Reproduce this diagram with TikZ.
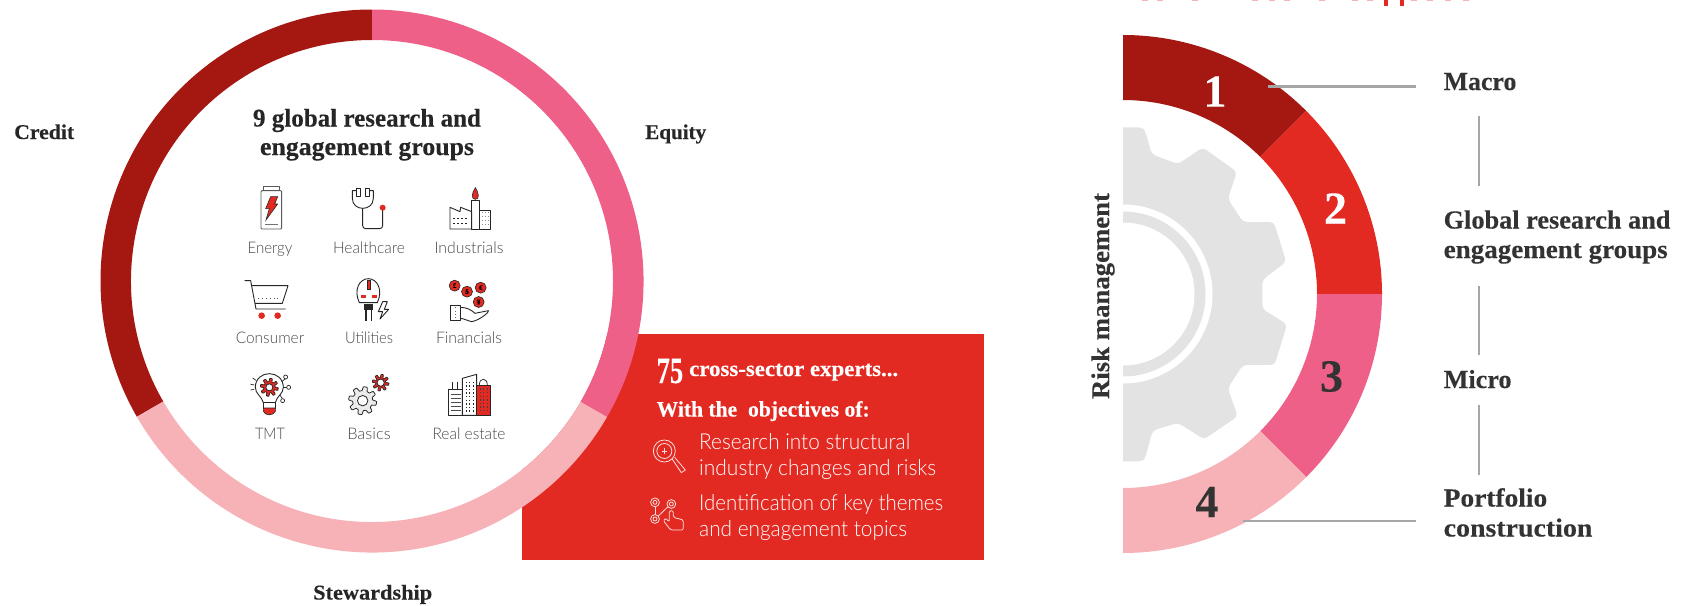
\documentclass[tikz,border=0pt]{standalone}
\usepackage{fontspec}
\usepackage{graphicx}
\setmainfont{Liberation Serif}[BoldFeatures={FakeBold=0.25}]
\newfontfamily\lightf{Lato}[UprightFont=* Light]
\newcommand\fw[2]{\resizebox{#1pt}{\height}{#2}}
\definecolor{cdark}{HTML}{A51812}
\definecolor{cred}{HTML}{E32A22}
\definecolor{cpink}{HTML}{EE6088}
\definecolor{clight}{HTML}{F7B2B8}
\definecolor{cink}{HTML}{333333}
\definecolor{cline}{HTML}{A6A6A6}
\definecolor{cgear}{HTML}{E3E3E3}
\definecolor{clabel}{HTML}{4A4A4C}
\tikzset{
  head/.style={font=\bfseries\fontsize{26}{30}\selectfont,text=cink,anchor=base west,inner sep=0pt},
  headc/.style={font=\bfseries\fontsize{25.5}{30}\selectfont,text=black!85,anchor=base,inner sep=0pt},
  seg/.style={font=\bfseries\fontsize{21}{25}\selectfont,text=black!85,anchor=base west,inner sep=0pt},
  num/.style={font=\bfseries\fontsize{46}{50}\selectfont,inner sep=0pt},
  lab/.style={font=\lightf\fontsize{16}{19}\selectfont,text=clabel,anchor=base,inner sep=0pt},
  boxh/.style={font=\bfseries\fontsize{22}{26}\selectfont,text=white,anchor=base west,inner sep=0pt},
  boxt/.style={font=\lightf\fontsize{22}{26}\selectfont,text=white,anchor=base west,inner sep=0pt},
  lead/.style={draw=cline,line width=2.8pt},
  ic/.style={draw=black!85,line width=.9pt,line join=round},
  icr/.style={fill=cred,draw=black!85,line width=.6pt},
  icw/.style={draw=white!85!cred,line width=.8pt,line join=round},
  zoomA/.style={shift={(230,170)},x=.33333pt,y=-.33333pt},
  zoomB/.style={shift={(230,270)},x=.33333pt,y=-.33333pt},
  zoomC/.style={shift={(510,320)},x=.33333pt,y=-.33333pt},
  coin/.style={circle,fill=cred,draw=black!85,line width=.6pt,inner sep=0pt,minimum size=11pt,font=\bfseries\fontsize{7}{8}\selectfont,text=black},
}
\newcommand\ringseg[5]{\fill[#1] (#2:#3pt) arc[start angle=#2,end angle=#4,radius=#3pt] -- (#4:#5pt) arc[start angle=#4,end angle=#2,radius=#5pt] -- cycle;}
\newcommand\cog[7]{\draw[#7] plot[variable=\t,samples=145,domain=0:360] ({#1+(#3+#4*max(min(2.2*sin(#5*\t),1),-1))*cos(\t)},{#2+(#3+#4*max(min(2.2*sin(#5*\t),1),-1))*sin(\t)}) -- cycle;
  \draw[fill=white,draw=black!85,line width=.8pt] (#1,#2) circle[radius=#6pt];}
\begin{document}
\begin{tikzpicture}[x=1pt,y=-1pt]
\useasboundingbox (0,0) rectangle (1694,605);
\fill[white] (0,0) rectangle (1694,605);
% clipped heading fragments at the top edge
\fill[cred] (1383.5,0) rectangle (1387.5,5.5);
\fill[cred] (1400,0) rectangle (1404,5.5);
\foreach \px in {1145,1160,1195,1255,1272,1287,1322,1355,1370,1414,1430,1448,1466}
  \fill[clight] (\px-3,0) rectangle (\px+3,1.2);
% ---------- red box
\fill[cred] (522,334) rectangle (984,560);
% ---------- left ring
\begin{scope}[shift={(372,281)},x=1pt,y=1pt]
  \fill[white] (0,0) circle[radius=241pt];
  \ringseg{cdark}{90}{271.5}{210}{241}
  \ringseg{clight}{210}{271.5}{330}{241}
  \ringseg{cpink}{-30}{271.5}{90}{241}
\end{scope}
\node[headc] (t1) at (367,126.5) {\fw{228}{9 global research and}};
\node[headc] (t2) at (367,155) {\fw{214}{engagement groups}};
\node[seg] (credit) at (14,139) {\fw{60}{Credit}};
\node[seg] (equity) at (645,139) {\fw{61}{Equity}};
\node[seg] (stew) at (313,599.5) {\fw{119}{Stewardship}};
% labels
\node[lab] (l1) at (270,253) {\fw{45}{Energy}};
\node[lab] (l2) at (369,253) {\fw{72}{Healthcare}};
\node[lab] (l3) at (469,253) {\fw{69}{Industrials}};
\node[lab] (l4) at (270,343) {\fw{68.5}{Consumer}};
\node[lab] (l5) at (369,343) {\fw{48}{Utilities}};
\node[lab] (l6) at (469,343) {\fw{66}{Financials}};
\node[lab] (l7) at (270,439) {\fw{30}{TMT}};
\node[lab] (l8) at (369,439) {\fw{43.5}{Basics}};
\node[lab] (l9) at (469,439) {\fw{73}{Real estate}};
% ---------- icons row 1
\begin{scope}[zoomA]
  % battery
  \draw[ic,draw=black!65,rounded corners=1pt] (93,62) rectangle (155,177);
  \draw[ic,draw=black!65] (100,49) rectangle (147,62);
  \draw[icr] (122,80) -- (143,80) -- (134,102) -- (143,102) -- (108,150) -- (118,116) -- (107,116) -- cycle;
  \draw[draw=black!55,line width=1.1pt] (105,164) -- (143,164);
  % stethoscope
  \draw[ic] (380,55) rectangle (392,78);
  \draw[ic] (406,55) rectangle (418,78);
  \draw[ic] (380,62) -- (367,62) -- (367,85) .. controls (367,125) and (430,125) .. (430,85) -- (430,62) -- (418,62);
  \draw[ic,rounded corners=3pt] (398,115) -- (398,176) -- (458,176) -- (458,118);
  \fill[cred] (458,113) circle[radius=3pt];
  % factory
  \draw[ic] (660,177) -- (660,112) -- (690,125) -- (692,112) -- (725,125) -- (725,177) -- cycle;
  \draw[ic] (725,92) rectangle (748,177);
  \draw[ic] (748,120) rectangle (781,177);
  \draw[icr] (736,53) .. controls (726,68) and (722,88) .. (736,88) .. controls (750,88) and (746,68) .. (736,53) -- cycle;
  \foreach \wy in {145,160} \draw[black!85,line width=1.1pt,dash pattern=on 1.6pt off 2.4pt] (670,\wy) -- (718,\wy);
  \foreach \wy in {128,140,152,164} \draw[black!45,line width=.8pt,dash pattern=on .8pt off 2pt] (756,\wy) -- (776,\wy);
\end{scope}
% ---------- icons row 2
\begin{scope}[zoomB]
  % cart
  \draw[ic] (44,32) -- (62,32) -- (78,117) -- (167,117);
  \draw[ic] (65,47) -- (174,47) -- (157,100) -- (75,100);
  \draw[black!70,line width=.8pt,dash pattern=on .8pt off 3pt] (85,85) -- (150,85);
  \fill[cred] (95,137) circle[radius=3.3pt];
  \fill[cred] (143,137) circle[radius=3.3pt];
  % plug
  \draw[ic] (388,98) .. controls (370,60) and (388,26) .. (415,26) .. controls (442,26) and (460,60) .. (442,98) -- cycle;
  \fill[cred,draw=black!85,line width=.5pt] (412,32) rectangle (422,58);
  \fill[cred] (392,75) rectangle (408,83);
  \fill[cred] (425,75) rectangle (441,83);
  \fill[black!85] (403,103) rectangle (428,120);
  \draw[ic,line width=1.1pt] (408,120) -- (408,152);
  \draw[ic,line width=1.1pt] (425,120) -- (425,152);
  \draw[ic] (458,95) -- (445,125) -- (458,125) -- (450,147) -- (476,118) -- (463,118) -- (472,95) -- cycle;
  % financials
  \node[coin] (cn1) at (674,47) {£};
  \node[coin] (cn2) at (711,65) {\$};
  \node[coin] (cn3) at (752,53) {€};
  \node[coin] (cn4) at (746,96) {¥};
  \draw[ic] (662,105) rectangle (690,150);
  \draw[black!60,line width=.8pt,dash pattern=on .8pt off 2.5pt] (675,112) -- (675,145);
  \draw[ic] (690,112) .. controls (710,112) and (725,120) .. (735,130) -- (775,122) .. controls (778,128) and (745,152) .. (725,155) .. controls (712,152) and (700,145) .. (690,145);
\end{scope}
% ---------- icons row 3
\begin{scope}[zoomB]
  % bulb
  \draw[ic] (100,398) .. controls (95,378) and (76,372) .. (76,352) .. controls (76,326) and (96,311) .. (118,311) .. controls (140,311) and (160,326) .. (160,352) .. controls (160,372) and (140,378) .. (136,398);
  \draw[ic] (100,398) rectangle (136,414);
  \fill[cred,draw=black!85,line width=.6pt] (100,414) -- (136,414) -- (136,424) .. controls (130,438) and (106,438) .. (100,424) -- cycle;
  \cog{118}{352}{22}{5}{8}{3.5}{fill=cred,draw=black!85,line width=.7pt}
  \draw[ic,line width=.7pt] (62,343) -- (73,345);
  \draw[ic,line width=.7pt] (68,324) -- (78,331);
  \draw[ic,line width=.7pt] (62,360) -- (72,358);
  \draw[ic,line width=.7pt] (155,335) -- (167,326);
  \draw[ic,line width=.7pt] (160,352) -- (170,352);
  \draw[ic,line width=.7pt] (150,375) -- (157,386);
  \draw[ic,line width=.7pt,fill=white] (167,321) circle[radius=2pt];
  \draw[ic,line width=.7pt,fill=white] (176,352) circle[radius=2pt];
  \draw[ic,line width=.7pt,fill=white] (158,392) circle[radius=2pt];
  % basics
  \cog{398}{392}{36}{6}{8}{5.2}{fill=black!8,draw=black!85,line width=.8pt}
  \cog{452}{338}{20}{5}{8}{3.6}{fill=cred,draw=black!85,line width=.7pt}
  % real estate
  \draw[ic,line width=.8pt] (668,335) -- (668,358);
  \draw[ic,line width=.8pt] (682,335) -- (682,358);
  \draw[ic] (656,358) rectangle (697,436);
  \foreach \wy in {372,384,396,408,420} \draw[black!70,line width=.7pt] (662,\wy) -- (692,\wy);
  \draw[ic] (697,325) -- (740,313) -- (740,436) -- (697,436) -- cycle;
  \foreach \wx in {708,718,729} \draw[black!85,line width=.9pt,dash pattern=on 1.4pt off 2.2pt] (\wx,335) -- (\wx,425);
  \draw[ic,line width=.7pt] (748,345) .. controls (748,322) and (772,322) .. (772,345);
  \fill[cred,draw=black!85,line width=.8pt] (740,345) rectangle (781,436);
  \foreach \wx in {750,760,771} \draw[black!75,line width=.9pt,dash pattern=on 1.4pt off 2.2pt] (\wx,355) -- (\wx,428);
\end{scope}
% ---------- box text
\node[boxh] (n75) at (656.5,383) {\fontsize{37}{40}\selectfont\fw{26.5}{75}};
\node[boxh] (b1) at (689,376) {\fw{209}{cross-sector experts...}};
\node[boxh] (b2) at (656.5,416.5) {\fw{213}{With the\ \ objectives of:}};
\node[boxt] (b3) at (699,449) {\fw{211}{Research into structural}};
\node[boxt] (b4) at (699,475) {\fw{237}{industry changes and risks}};
\node[boxt] (b5) at (699,510) {\fw{244}{Identification of key themes}};
\node[boxt] (b6) at (699,536) {\fw{208}{and engagement topics}};
\begin{scope}[zoomC]
  \draw[icw] (463,393) circle[radius=11pt];
  \draw[icw] (463,393) circle[radius=7.5pt];
  \draw[icw] (455,393) -- (471,393) (463,385) -- (463,401);
  \draw[icw] (486,416) -- (514,458) -- (526,450) -- (494,412);
  \foreach \cx/\cy in {435/547,435/597,484/552} {
    \draw[icw] (\cx,\cy) circle[radius=4.4pt];
    \draw[icw] (\cx,\cy) circle[radius=2pt];}
  \draw[icw] (435,560) -- (435,584);
  \draw[icw] (445,588) -- (474,560);
  \draw[icw,rounded corners=1.5pt] (478,572) -- (490,572) -- (490,592) -- (520,600) -- (520,630) -- (482,630) -- (460,602) -- (466,594) -- (478,606) -- cycle;
\end{scope}
% ---------- right half ring and gear
\begin{scope}
  \clip (1123,0) rectangle (1694,605);
  \begin{scope}[shift={(1050,0)},x=.41068pt,y=-.38610pt]
    \fill[cgear,rounded corners=4pt] (100,330) -- (225,330) -- (232,340) -- (248,400) -- (312,425) -- (372,382) -- (455,445) -- (433,515) -- (470,575) -- (545,575) -- (575,678) -- (517,725) -- (517,800) -- (577,840) -- (547,945) -- (470,945) -- (433,1005) -- (457,1078) -- (375,1138) -- (312,1095) -- (250,1115) -- (232,1185) -- (225,1195) -- (100,1195) -- cycle;
  \end{scope}
  \begin{scope}[shift={(1123,294)},x=1pt,y=1pt]
    \fill[white] (0,0) circle[radius=89.5pt];
    \fill[cgear] (0,0) circle[radius=82.5pt];
    \fill[white] (0,0) circle[radius=71.5pt];
    \ringseg{cdark}{45}{259}{90}{194}
    \ringseg{cred}{0}{259}{45}{194}
    \ringseg{cpink}{-45}{259}{0}{194}
    \ringseg{clight}{-90}{259}{-45}{194}
  \end{scope}
\end{scope}
\node[num,text=white] (n1) at (1215,91.5) {1};
\node[num,text=white] (n2) at (1335.5,208.5) {2};
\node[num,text=cink] (n3) at (1331.5,376.5) {3};
\node[num,text=cink] (n4) at (1207,502) {4};
\node[font=\bfseries\fontsize{25.5}{30}\selectfont,text=cink,rotate=90,inner sep=0pt] (risk) at (1103,296) {\fw{206}{Risk management}};
\node[head] (macro) at (1443.5,90) {\fw{72.7}{Macro}};
\node[head] (g1) at (1443.5,228.5) {\fw{226.7}{Global research and}};
\node[head] (g2) at (1443.5,258) {\fw{224}{engagement groups}};
\node[head] (micro) at (1443.5,388) {\fw{67.8}{Micro}};
\node[head] (p1) at (1443.5,506.5) {\fw{103.5}{Portfolio}};
\node[head] (p2) at (1443.5,536.5) {\fw{148.7}{construction}};
% ---------- leader lines
\coordinate (a1) at (1268,86.5); \coordinate (a2) at (1415.5,86.5);
\coordinate (b1x) at (1243,521); \coordinate (b2x) at (1415.5,521);
\coordinate (v1) at (1479,116); \coordinate (v2) at (1479,186);
\coordinate (v3) at (1479,286); \coordinate (v4) at (1479,355);
\coordinate (v5) at (1479,405); \coordinate (v6) at (1479,475);
\draw[lead] (a1) -- (a2);
\draw[lead] (b1x) -- (b2x);
\draw[lead] (v1) -- (v2);
\draw[lead] (v3) -- (v4);
\draw[lead] (v5) -- (v6);
\end{tikzpicture}
\end{document}
